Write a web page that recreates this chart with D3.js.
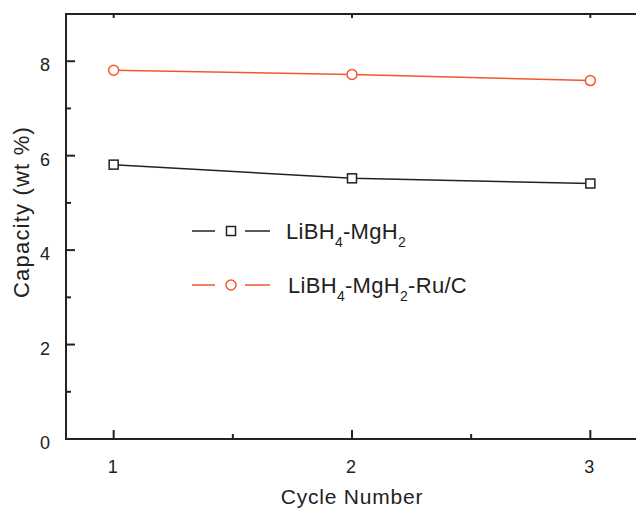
<!DOCTYPE html>
<html>
<head>
<meta charset="utf-8">
<script src="https://cdn.jsdelivr.net/npm/d3@7"></script>
<style>
    body { margin: 0; background: #fff; }
    svg { display: block; font-family: "Liberation Sans", Arial, sans-serif; }
</style>
</head>
<body>
<svg></svg>
<script>

const cycles = [1, 2, 3]
const baseValues = [5.81, 5.52, 5.41]
const ruValues = [7.81, 7.72, 7.59]
const yTicks = [0, 2, 4, 6, 8]
const yMinorTicks = [1, 3, 5, 7]
const xTicks = [1, 2, 3]
const xMinorTicks = [1.5, 2.5]

document.addEventListener("DOMContentLoaded", ()=>{
    showData()
})

function showData(){

    const w = 636
    const h = 510
    const left = 66
    const top = 14
    const bottom = 439
    const right = 638
    const ink = "#222"
    const orange = "#f0582c"

    const svg = d3.select("svg")
        .attr("width", w)
        .attr("height", h)

    //Create scale
    const xScale = d3.scaleLinear()
        .domain([0.8, 3.2])
        .range([left, right])

    const yScale = d3.scaleLinear()
        .domain([0, 9])
        .range([bottom, top])

    //Axis lines (left, bottom, top)
    const frame = svg.append("g")
        .attr("stroke", ink)
        .attr("stroke-width", 2)
        .attr("fill", "none")

    frame.append("line").attr("x1", left).attr("x2", left).attr("y1", top).attr("y2", bottom + 1)
    frame.append("line").attr("x1", left - 1).attr("x2", w).attr("y1", bottom).attr("y2", bottom)
    frame.append("line").attr("x1", left - 1).attr("x2", w).attr("y1", top).attr("y2", top)

    //Ticks, pointing inward
    frame.selectAll(".ytick")
        .data(yTicks)
        .enter()
        .append("line")
        .attr("x1", left).attr("x2", left + 9)
        .attr("y1", d => yScale(d)).attr("y2", d => yScale(d))

    frame.selectAll(".yminor")
        .data(yMinorTicks)
        .enter()
        .append("line")
        .attr("x1", left).attr("x2", left + 5)
        .attr("y1", d => yScale(d)).attr("y2", d => yScale(d))

    frame.selectAll(".xtick")
        .data(xTicks)
        .enter()
        .append("line")
        .attr("x1", d => xScale(d)).attr("x2", d => xScale(d))
        .attr("y1", bottom).attr("y2", bottom - 9)

    frame.selectAll(".xminor")
        .data(xMinorTicks)
        .enter()
        .append("line")
        .attr("x1", d => xScale(d)).attr("x2", d => xScale(d))
        .attr("y1", bottom).attr("y2", bottom - 5)

    frame.selectAll(".toptick")
        .data(xTicks)
        .enter()
        .append("line")
        .attr("x1", d => xScale(d)).attr("x2", d => xScale(d))
        .attr("y1", top).attr("y2", top + 4)

    //Tick labels
    svg.selectAll(".ylabel")
        .data(yTicks)
        .enter()
        .append("text")
        .attr("x", left - 16)
        .attr("y", d => yScale(d) + 10)
        .attr("text-anchor", "end")
        .attr("font-size", 18)
        .attr("fill", ink)
        .text(d => d)

    svg.selectAll(".xlabel")
        .data(xTicks)
        .enter()
        .append("text")
        .attr("x", d => xScale(d) - 1)
        .attr("y", bottom + 34)
        .attr("text-anchor", "middle")
        .attr("font-size", 18)
        .attr("fill", ink)
        .text(d => d)

    //Axis titles
    svg.append("text")
        .attr("x", 352)
        .attr("y", 504)
        .attr("text-anchor", "middle")
        .attr("font-size", 21)
        .attr("letter-spacing", 0.8)
        .attr("fill", ink)
        .text("Cycle Number")

    svg.append("text")
        .attr("transform", "translate(29, 212) rotate(-90)")
        .attr("text-anchor", "middle")
        .attr("font-size", 22)
        .attr("letter-spacing", 1.2)
        .attr("fill", ink)
        .text("Capacity (wt %)")

    //Series
    const series = [
        {values: baseValues, color: ink, shape: "square"},
        {values: ruValues, color: orange, shape: "circle"}
    ]

    const line = d3.line()
        .x(d => xScale(d[0]))
        .y(d => yScale(d[1]))

    series.forEach(s => {
        const pts = cycles.map((c, i) => [c, s.values[i]])

        svg.append("path")
            .datum(pts)
            .attr("d", line)
            .attr("fill", "none")
            .attr("stroke", s.color)
            .attr("stroke-width", 1.5)

        drawMarkers(svg, pts.map(p => [xScale(p[0]), yScale(p[1])]), s)
    })

    //Create legend
    const legendRows = [
        {y: 231, color: ink, shape: "square", parts: [["LiBH", false], ["4", true], ["-MgH", false], ["2", true]], textX: 286},
        {y: 285, color: orange, shape: "circle", parts: [["LiBH", false], ["4", true], ["-MgH", false], ["2", true], ["-Ru/C", false]], textX: 288}
    ]

    legendRows.forEach(r => {
        const g = svg.append("g")

        g.append("line")
            .attr("x1", 192).attr("x2", 215)
            .attr("y1", r.y).attr("y2", r.y)
            .attr("stroke", r.color).attr("stroke-width", 1.5)

        g.append("line")
            .attr("x1", 245).attr("x2", 270)
            .attr("y1", r.y).attr("y2", r.y)
            .attr("stroke", r.color).attr("stroke-width", 1.5)

        drawMarkers(g, [[231, r.y]], r)

        const text = g.append("text")
            .attr("x", r.textX)
            .attr("y", r.y + 8)
            .attr("font-size", 22)
            .attr("letter-spacing", 0.3)
            .attr("fill", ink)

        let shifted = false
        r.parts.forEach(p => {
            const dy = p[1] ? 8 : (shifted ? -8 : 0)
            text.append("tspan")
                .attr("dy", dy)
                .attr("font-size", p[1] ? 14 : 22)
                .text(p[0])
            shifted = p[1]
        })
    })
}

function drawMarkers(parent, pts, s){

    if(s.shape == "square"){
        parent.selectAll(null)
            .data(pts)
            .enter()
            .append("rect")
            .attr("x", d => d[0] - 4.5)
            .attr("y", d => d[1] - 4.5)
            .attr("width", 9)
            .attr("height", 9)
            .attr("fill", "#fff")
            .attr("stroke", s.color)
            .attr("stroke-width", 1.5)
    }
    else {
        parent.selectAll(null)
            .data(pts)
            .enter()
            .append("circle")
            .attr("cx", d => d[0])
            .attr("cy", d => d[1])
            .attr("r", 5)
            .attr("fill", "#fff")
            .attr("stroke", s.color)
            .attr("stroke-width", 1.5)
    }
}
</script>
</body>
</html>
